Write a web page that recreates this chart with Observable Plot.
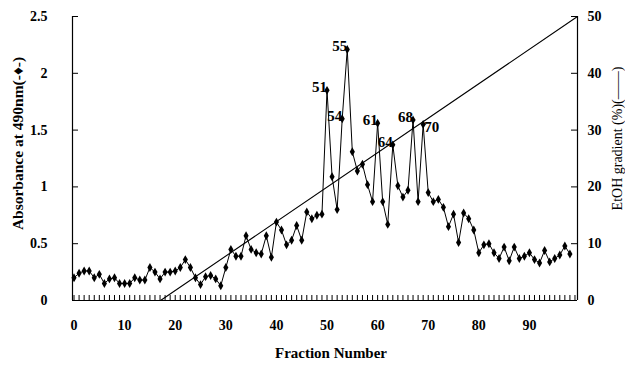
<!DOCTYPE html>
<html>
<head>
<meta charset="utf-8">
<script src="https://cdn.jsdelivr.net/npm/d3@7"></script>
<script src="https://cdn.jsdelivr.net/npm/@observablehq/plot@0.6"></script>
<style>
  html, body { margin: 0; padding: 0; background: #fff; }
  #chart svg text { fill: #000; }
</style>
</head>
<body>
<div id="chart"></div>
<script>
// ---- data ----
const absorbance = [
  0.20, 0.24, 0.26, 0.26, 0.20, 0.23, 0.15, 0.19, 0.20, 0.15,
  0.15, 0.15, 0.20, 0.18, 0.18, 0.29, 0.25, 0.19, 0.25, 0.25,
  0.26, 0.29, 0.36, 0.29, 0.20, 0.14, 0.21, 0.22, 0.19, 0.13,
  0.29, 0.45, 0.39, 0.39, 0.57, 0.45, 0.42, 0.41, 0.57, 0.38,
  0.69, 0.62, 0.49, 0.53, 0.66, 0.53, 0.78, 0.72, 0.75, 0.76,
  1.85, 1.09, 0.80, 1.60, 2.21, 1.31, 1.14, 1.20, 1.02, 0.87,
  1.56, 0.87, 0.67, 1.37, 1.01, 0.91, 0.97, 1.59, 0.87, 1.55,
  0.95, 0.87, 0.89, 0.82, 0.65, 0.76, 0.51, 0.77, 0.72, 0.62,
  0.42, 0.49, 0.50, 0.42, 0.37, 0.47, 0.35, 0.47, 0.37, 0.39,
  0.42, 0.36, 0.33, 0.44, 0.34, 0.37, 0.40, 0.48, 0.41
];
const fraction = absorbance.map((_, i) => i);
const categories = d3.range(0, 100);
const gradientFraction = [17.1, 99.5];
const gradientPercent = [0, 50];
const peakFractions = [50, 53, 54, 60, 63, 67];
const peakLabels = ["51", "54", "55", "61", "64", "68"];
const peak70Fraction = [69];
const peak70Label = ["70"];
const xTicks = [0, 10, 20, 30, 40, 50, 60, 70, 80, 90];
const leftTicks = [0, 0.5, 1, 1.5, 2, 2.5];
const rightTicks = [0, 10, 20, 30, 40, 50];
const xDomain = [-0.3, 99.5];

// ---- build tables ----
const pctToAbs = p => p * 2.5 / 50;
const series = fraction.map((f, i) => ({f, a: absorbance[i]}));
const gradient = gradientFraction.map((f, i) => ({f, a: pctToAbs(gradientPercent[i])}));
const peaks = peakFractions.map((f, i) => ({f, a: absorbance[f], label: peakLabels[i]}));
const peaks70 = peak70Fraction.map((f, i) => ({f, a: absorbance[f], label: peak70Label[i]}));

const serif = "'Liberation Serif', 'Times New Roman', serif";

const chart = Plot.plot({
  width: 625,
  height: 365,
  marginLeft: 72,
  marginRight: 48,
  marginTop: 16,
  marginBottom: 65,
  style: {fontFamily: serif, background: "#fff", color: "#000"},
  x: {domain: xDomain},
  y: {domain: [0, 2.5]},
  marks: [
    // category tick marks (inside, along bottom)
    Plot.ruleX(categories, {x: d => d, insetTop: 279, stroke: "#000", strokeWidth: 1}),
    // left / right inward ticks
    Plot.ruleY(leftTicks, {y: d => d, insetRight: 499, stroke: "#000"}),
    Plot.ruleY(rightTicks.map(pctToAbs), {y: d => d, insetLeft: 499, stroke: "#000"}),
    // axis lines
    Plot.ruleY([0], {stroke: "#000", strokeWidth: 1.2}),
    Plot.ruleX([xDomain[0], xDomain[1]], {stroke: "#000", strokeWidth: 1.2}),
    // tick labels
    Plot.axisX(xTicks, {anchor: "bottom", tickSize: 0, tickPadding: 20, fontSize: 14, fontWeight: "bold", label: null}),
    Plot.axisY(leftTicks, {anchor: "left", tickSize: 0, tickPadding: 25, fontSize: 14, fontWeight: "bold", tickFormat: d => String(d), label: null}),
    Plot.axisY(rightTicks.map(pctToAbs), {anchor: "right", tickSize: 0, tickPadding: 10, fontSize: 14, fontWeight: "bold", tickFormat: d => String(Math.round(d * 20)), label: null}),
    // gradient line
    Plot.line(gradient, {x: "f", y: "a", stroke: "#000", strokeWidth: 1.1}),
    // absorbance series
    Plot.line(series, {x: "f", y: "a", stroke: "#000", strokeWidth: 1}),
    Plot.dot(series, {x: "f", y: "a", symbol: "diamond", r: 2.7, fill: "#000", stroke: null}),
    // peak labels
    Plot.text(peaks, {x: "f", y: "a", text: "label", textAnchor: "end", lineAnchor: "bottom", dx: 0, dy: 2, fontSize: 15, fontWeight: "bold"}),
    Plot.text(peaks70, {x: "f", y: "a", text: "label", textAnchor: "start", lineAnchor: "middle", dx: 1, dy: 3, fontSize: 15, fontWeight: "bold"}),
    // axis titles
    Plot.text(["Fraction Number"], {text: d => d, frameAnchor: "bottom", textAnchor: "middle", lineAnchor: "middle", dx: 6, dy: 53, fontSize: 15, fontWeight: "bold"}),
    Plot.text(["Absorbance at 490nm(-\u2666-)"], {text: d => d, frameAnchor: "left", textAnchor: "middle", lineAnchor: "middle", rotate: -90, dx: -54, dy: -15, fontSize: 15.5, fontWeight: "bold"}),
    Plot.text(["EtOH gradient (%)(\u2014\u2014)"], {text: d => d, frameAnchor: "right", textAnchor: "middle", lineAnchor: "middle", rotate: -90, dx: 40, dy: -20, fontSize: 14})
  ]
});
document.getElementById("chart").appendChild(chart);
</script>
</body>
</html>
